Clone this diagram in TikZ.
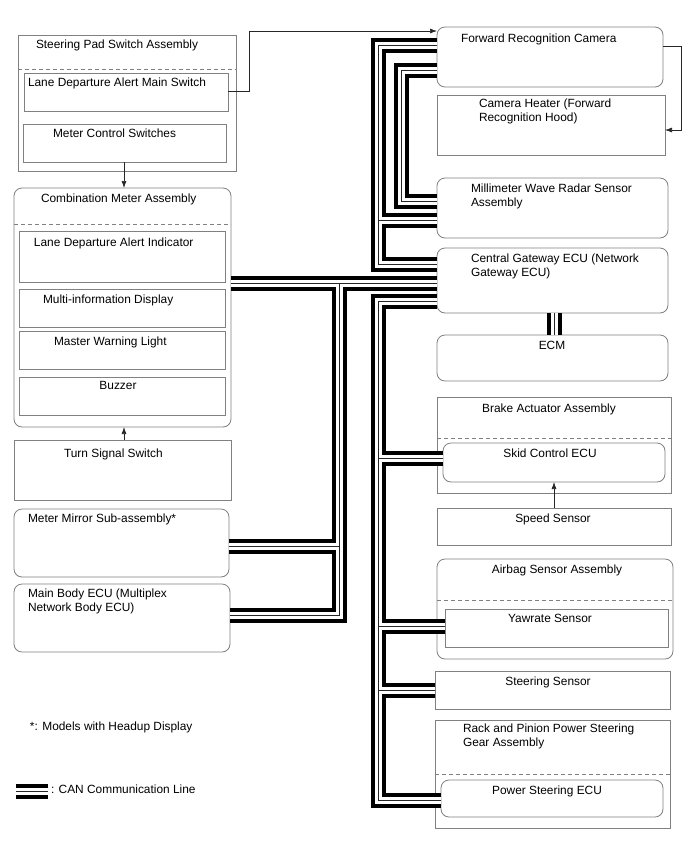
\documentclass[tikz,border=0pt]{standalone}
\usepackage{fontspec}
\setmainfont{Liberation Sans}
\usetikzlibrary{arrows.meta}
\definecolor{boxgray}{RGB}{128,128,128}
\newcommand\canroutes[1]{%
  % Forward Recognition Camera -- Central Gateway ECU (with branch to radar)
  \draw[#1] (FRC.west |- 0,45) -| (378.5,264) -- (CGW.west |- 0,264);
  \draw[#1] (378.5,220) -- (MWR.west |- 0,220);
  % Forward Recognition Camera -- Millimeter Wave Radar
  \draw[#1] (FRC.west |- 0,70) -| (401.5,201) -- (MWR.west |- 0,201);
  % left bus
  \draw[#1] (CMA.east |- 0,283.5) -- (CGW.west |- 0,283.5);
  \draw[#1] (339,283.5) |- (MBE.east |- 0,615.5);
  \draw[#1] (339,546.5) -- (MMS.east |- 0,546.5);
  % lower right bus
  \draw[#1] (CGW.west |- 0,301.5) -| (378.5,800) -- (PSE.west |- 0,800);
  \draw[#1] (378.5,458) -- (SCE.west |- 0,458);
  \draw[#1] (378.5,626) -- (YS.west |- 0,626);
  \draw[#1] (378.5,690.5) -- (STS.west |- 0,690.5);
  % gateway -- ECM
  \draw[#1] (CGW.south -| 554,0) -- (ECM.north -| 554,0);
  % legend
  \draw[#1] (legA) -- (legB);
}
\begin{document}
\begin{tikzpicture}[x=1pt,y=-1pt,
  bx/.style={draw=boxgray, line width=0.8pt, anchor=north west, inner sep=0pt, outer sep=0pt},
  rbx/.style={bx, rounded corners=8pt},
  dsh/.style={draw=boxgray, line width=0.8pt, dash pattern=on 4pt off 3pt},
  txt/.style={font=\fontsize{11.9}{14.5}\selectfont, inner sep=0pt, outer sep=0pt, align=left, anchor=north west},
  ctxt/.style={txt, anchor=north},
  arr/.style={draw=black!85, line width=0.7pt, -{Latex[length=7pt,width=5pt]}},
  canA/.style={line width=15pt, black},
  canB/.style={line width=7pt, white},
  canC/.style={line width=0.8pt, black!85}]
\fill[white] (0,0) rectangle (688,852);
\useasboundingbox (0,0) rectangle (688,852);

% ---------- left column ----------
\node[bx, minimum width=218pt, minimum height=136pt] (SPSA) at (18,35) {};
\node[bx, minimum width=204pt, minimum height=38pt] (LDAMS) at (24,73) {};
\node[bx, minimum width=203pt, minimum height=38pt] (MCS) at (23,124) {};
\node[rbx, minimum width=217pt, minimum height=239pt] (CMA) at (14,188) {};
\node[bx, minimum width=206pt, minimum height=51pt] (LDAI) at (19,231) {};
\node[bx, minimum width=206pt, minimum height=38pt] (MID) at (19,289) {};
\node[bx, minimum width=206pt, minimum height=38pt] (MWL) at (19,331) {};
\node[bx, minimum width=206pt, minimum height=38pt] (BUZ) at (19,377) {};
\node[bx, minimum width=217pt, minimum height=60pt] (TSS) at (14,440) {};
\node[rbx, minimum width=215pt, minimum height=68pt] (MMS) at (14,509) {};
\node[rbx, minimum width=216pt, minimum height=68pt] (MBE) at (14,584) {};

% ---------- right column ----------
\node[rbx, minimum width=226pt, minimum height=60pt] (FRC) at (437,27) {};
\node[bx, minimum width=228pt, minimum height=60pt] (CH) at (437,95) {};
\node[rbx, minimum width=231pt, minimum height=60pt] (MWR) at (437,178) {};
\node[rbx, minimum width=231pt, minimum height=65pt] (CGW) at (437,248) {};
\node[rbx, minimum width=231pt, minimum height=46pt] (ECM) at (437,335) {};
\node[bx, minimum width=234pt, minimum height=96pt] (BAA) at (437,397) {};
\node[rbx, minimum width=222pt, minimum height=39pt] (SCE) at (443,443) {};
\node[bx, minimum width=234pt, minimum height=37pt] (SPS) at (437,508) {};
\node[rbx, minimum width=236pt, minimum height=100pt] (ASA) at (437,559) {};
\node[bx, minimum width=223pt, minimum height=38pt] (YS) at (445,609) {};
\node[bx, minimum width=235pt, minimum height=38pt] (STS) at (435,671) {};
\node[bx, minimum width=235pt, minimum height=108pt] (RPA) at (435,720) {};
\node[rbx, minimum width=222pt, minimum height=37pt] (PSE) at (441,780) {};

% dashed separators
\draw[dsh] (SPSA.west |- 0,69) -- (SPSA.east |- 0,69);
\draw[dsh] (CMA.west |- 0,224) -- (CMA.east |- 0,224);
\draw[dsh] (BAA.west |- 0,438) -- (BAA.east |- 0,438);
\draw[dsh] (ASA.west |- 0,600) -- (ASA.east |- 0,600);
\draw[dsh] (RPA.west |- 0,774) -- (RPA.east |- 0,774);

% ---------- texts ----------
\node[txt] (tSPSA) at (36,39.5) {Steering Pad Switch Assembly};
\node[txt] (tLDAMS) at (28,77.5) {Lane Departure Alert Main Switch};
\node[txt] (tMCS) at (53,128.5) {Meter Control Switches};
\node[txt] (tCMA) at (41,193.5) {Combination Meter Assembly};
\node[txt] (tLDAI) at (34,237.5) {Lane Departure Alert Indicator};
\node[txt] (tMID) at (43,294.5) {Multi-information Display};
\node[txt] (tMWL) at (54,336.5) {Master Warning Light};
\node[ctxt] (tBUZ) at (118,381.5) {Buzzer};
\node[txt] (tTSS) at (64,448.5) {Turn Signal Switch};
\node[txt] (tMMS) at (28,513.5) {Meter Mirror Sub-assembly*};
\node[txt] (tMBE) at (28,588.5) {Main Body ECU (Multiplex\\Network Body ECU)};
\node[txt] (tFRC) at (461,33.5) {Forward Recognition Camera};
\node[txt] (tCH) at (479,98.5) {Camera Heater (Forward\\Recognition Hood)};
\node[txt] (tMWR) at (471,183.5) {Millimeter Wave Radar Sensor\\Assembly};
\node[txt] (tCGW) at (471,253.5) {Central Gateway ECU (Network\\Gateway ECU)};
\node[ctxt] (tECM) at (552,341.5) {ECM};
\node[ctxt] (tBAA) at (549,403.5) {Brake Actuator Assembly};
\node[ctxt] (tSCE) at (550,448.5) {Skid Control ECU};
\node[ctxt] (tSPS) at (553,513.5) {Speed Sensor};
\node[ctxt] (tASA) at (557,564.5) {Airbag Sensor Assembly};
\node[ctxt] (tYS) at (550,614.5) {Yawrate Sensor};
\node[ctxt] (tSTS) at (548,676.5) {Steering Sensor};
\node[txt] (tRPA) at (463,723.5) {Rack and Pinion Power Steering\\Gear Assembly};
\node[ctxt] (tPSE) at (547,785.5) {Power Steering ECU};
\node[txt] (tnote) at (30,721.5) {*: Models with Headup Display};
\node[txt] (tleg) at (51,784.5) {: CAN Communication Line};
\coordinate (legA) at (16,791);
\coordinate (legB) at (48,791);

% ---------- signal arrows ----------
\draw[arr] (LDAMS.east |- 0,91) -- (249,91) |- (FRC.west |- 0,31);
\draw[arr] (MCS.south -| 124,0) -- (CMA.north -| 124,0);
\draw[arr] (TSS.north -| 124,0) -- (CMA.south -| 124,0);
\draw[arr] (FRC.east |- 0,46) -| (681,130) -- (CH.east |- 0,130);
\draw[arr] (SPS.north -| 554,0) -- (SCE.south -| 554,0);

% ---------- CAN lines (three layers) ----------
\canroutes{canA}
\canroutes{canB}
\canroutes{canC}
\end{tikzpicture}
\end{document}
